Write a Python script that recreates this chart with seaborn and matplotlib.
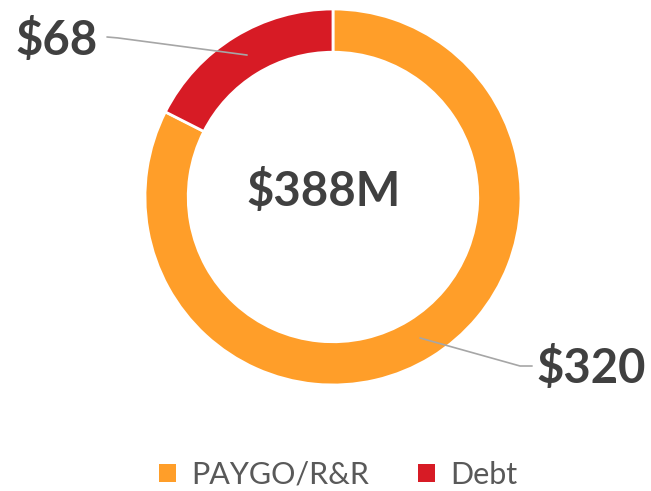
import matplotlib
matplotlib.use("Agg")
import matplotlib.pyplot as plt
import seaborn as sns
from matplotlib.patches import Patch

# data
categories = ["PAYGO/R&R", "Debt"]
values = [320, 68]
value_labels = ["$320", "$68"]
total_label = "$388M"
colors = ["#FF9E29", "#D71B25"]

sns.set_theme(style="white")
plt.rcParams['font.family'] = ['Lato', 'DejaVu Sans']

fig = plt.figure(figsize=(6.51, 4.91), dpi=100)
ax = fig.add_axes([0.2227, 0.2159, 0.5776, 0.7658])

wedges, _ = ax.pie(values, colors=colors, startangle=90, counterclock=False,
                   radius=1, wedgeprops=dict(width=0.23, edgecolor='white', linewidth=2))
ax.set_xlim(-1, 1)
ax.set_ylim(-1, 1)
ax.set_aspect('equal')
ax.axis('off')

ax.text(-0.05, 0.03, total_label, ha='center', va='center', fontsize=34,
        fontweight='bold', color='#404040')

# leader lines + value labels
ax.plot([0.463, 0.995, 1.059], [-0.75, -0.899, -0.899], color='#A6A6A6', lw=1.2, clip_on=False)
ax.text(1.08, -0.91, value_labels[0], ha='left', va='center', fontsize=34,
        fontweight='bold', color='#404040')
ax.plot([-0.457, -1.144, -1.202], [0.755, 0.846, 0.851], color='#A6A6A6', lw=1.2, clip_on=False)
ax.text(-1.25, 0.835, value_labels[1], ha='right', va='center', fontsize=34,
        fontweight='bold', color='#404040')

handles = [Patch(facecolor=c, edgecolor='none') for c in colors]
fig.legend(handles, categories, loc='center', bbox_to_anchor=(0.52, 0.033), ncol=2,
           frameon=False, fontsize=22, labelcolor='#595959', handlelength=0.55,
           handleheight=0.55, handletextpad=0.5, columnspacing=1.6)

fig.savefig("out.png", dpi=100)
